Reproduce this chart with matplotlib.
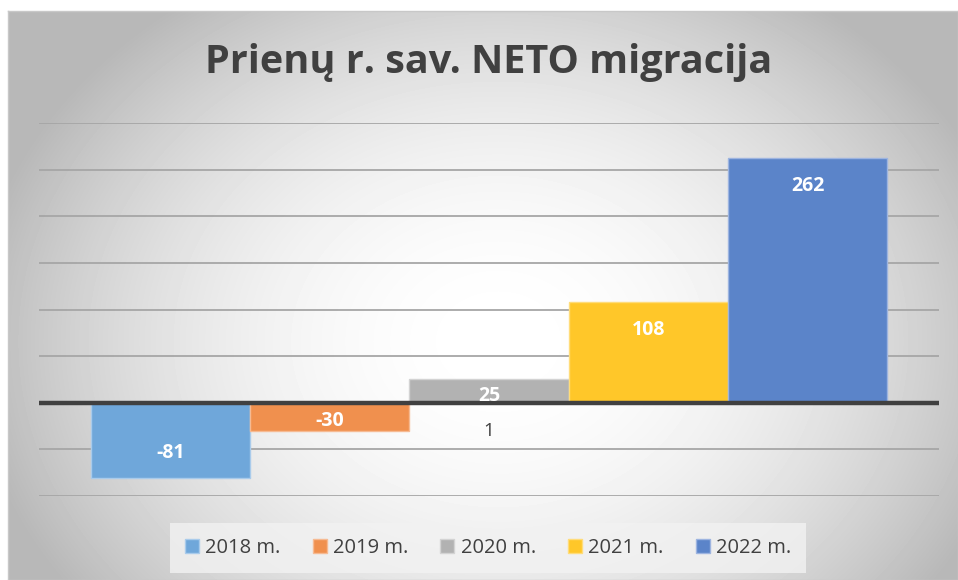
import numpy as np
import matplotlib
matplotlib.use("Agg")
import matplotlib.pyplot as plt

# data
years = ['2018 m.', '2019 m.', '2020 m.', '2021 m.', '2022 m.']
values = [-81, -30, 25, 108, 262]
colors = ['#6FA7DA', '#F0904E', '#B2B2B2', '#FFC729', '#5B84C9']
edges = ['#A9CBEB', '#F6BA92', '#D3D3D3', '#FFDC7A', '#9DB4E0']
category = ['1']

plt.rcParams['font.family'] = ['Open Sans', 'DejaVu Sans']

fig = plt.figure(figsize=(9.58, 5.80), dpi=100)

# radial gradient background of the chart area
bg = fig.add_axes([8 / 958, 0, 950 / 958, 569 / 580], zorder=0)
yy, xx = np.mgrid[0:569, 0:950]
r = np.sqrt(((xx - 490) / 600.0) ** 2 + ((yy - 330) / 480.0) ** 2)
shade = np.clip(1.0 - 0.36 * r ** 2.0, 0.72, 1.0)
bg.imshow(shade, cmap='gray', vmin=0, vmax=1, aspect='auto', interpolation='bilinear')
bg.set_xticks([])
bg.set_yticks([])
for s in bg.spines.values():
    s.set_color('#c8c8c8')
    s.set_linewidth(1)

ax = fig.add_axes([39 / 958, 1 - 496 / 580, 900 / 958, 373 / 580], zorder=1)
ax.patch.set_alpha(0)

w = 0.177
for i, (lab, v) in enumerate(zip(years, values)):
    x = (i - 2) * w
    ax.bar(x, v, width=w, color=colors[i], edgecolor=edges[i], linewidth=1, label=lab, zorder=2)

# data labels (inside end, short bars nudged)
offsets = [-18, -7, -12, -20, -20]
for i, v in enumerate(values):
    x = (i - 2) * w
    sign = 1 if v > 0 else -1
    ax.annotate(str(v), xy=(x, v), xytext=(0, offsets[i] * sign),
                textcoords='offset points', ha='center', va='center',
                color='white', fontsize=14, fontweight='bold', zorder=4)

ax.set_xlim(-0.5, 0.5)
ax.set_ylim(-100, 300)
ax.set_yticks(np.arange(-100, 301, 50))
ax.yaxis.grid(True, color='#a6a6a6', linewidth=1.3, zorder=1)
ax.set_axisbelow(True)
ax.tick_params(axis='y', length=0, labelleft=False)
ax.axhline(0, color='#404040', linewidth=3.2, zorder=3)

ax.spines['bottom'].set_position(('data', 0))
for s in ax.spines.values():
    s.set_visible(False)
ax.set_xticks([0])
ax.set_xticklabels(category)
ax.tick_params(axis='x', length=0, pad=14, labelsize=13.5, labelcolor='#404040')

fig.text(489 / 958, 1 - 63 / 580, 'Prienų r. sav. NETO migracija', ha='center', va='center',
         fontsize=28.5, fontweight='bold', color='#404040')

leg = fig.legend(loc='center', bbox_to_anchor=(488 / 958, 1 - 548 / 580), ncol=5,
                 fontsize=14.5, frameon=True, handlelength=0.7, handleheight=0.7,
                 handletextpad=0.3, columnspacing=1.6, borderpad=0.75)
leg.get_frame().set_facecolor('#f2f2f2')
leg.get_frame().set_edgecolor('none')
leg.get_frame().set_alpha(0.8)
leg.get_frame().set_boxstyle('square', pad=0)
for t in leg.get_texts():
    t.set_color('#404040')

fig.savefig('out.png', dpi=100, facecolor='white')
